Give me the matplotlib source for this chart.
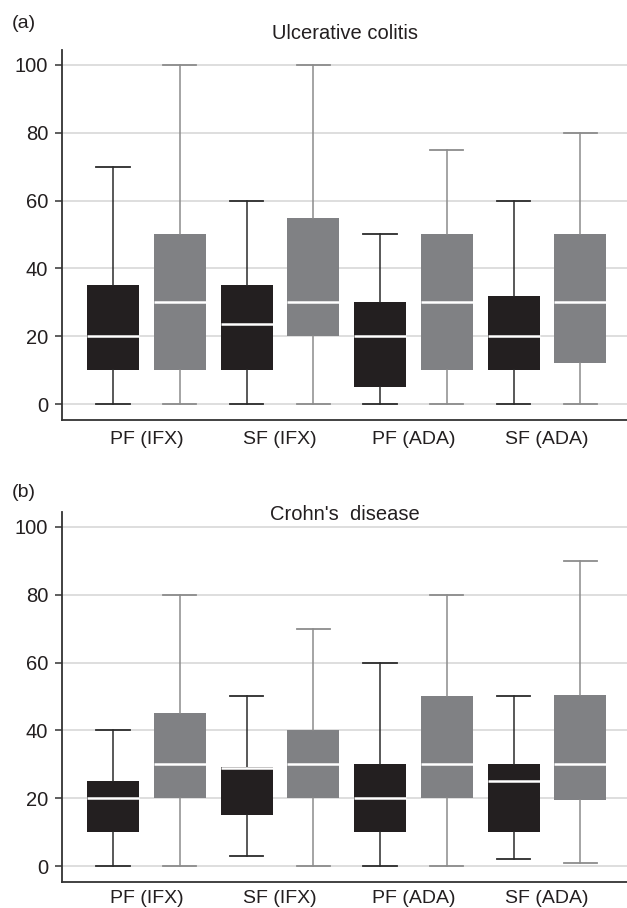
import matplotlib
matplotlib.use('Agg')
import matplotlib.pyplot as plt
import numpy as np

plt.rcParams['font.family'] = ['Liberation Sans', 'DejaVu Sans']

groups = ['PF (IFX)', 'SF (IFX)', 'PF (ADA)', 'SF (ADA)']

# Ulcerative colitis: per group, [black box, gray box]
uc_min = [[0, 0], [0, 0], [0, 0], [0, 0]]
uc_q1 = [[10, 10], [10, 20], [5, 10], [10, 12]]
uc_med = [[20, 30], [23.5, 30], [20, 30], [20, 30]]
uc_q3 = [[35, 50], [35, 55], [30, 50], [32, 50]]
uc_max = [[70, 100], [60, 100], [50, 75], [60, 80]]

# Crohn's disease
cd_min = [[0, 0], [3, 0], [0, 0], [2, 1]]
cd_q1 = [[10, 20], [15, 20], [10, 20], [10, 19.5]]
cd_med = [[20, 30], [29, 30], [20, 30], [25, 30]]
cd_q3 = [[25, 45], [29.3, 40], [30, 50], [30, 50.5]]
cd_max = [[40, 80], [50, 70], [60, 80], [50, 90]]

box_colors = ['#231f20', '#808184']
whisker_colors = ['#2b2b2b', '#8c8c8c']


def draw(ax, mins, q1s, meds, q3s, maxs, title, title_y, xpad):
    ax.set_axisbelow(True)
    ax.yaxis.grid(True, color='#d8d8d8', linewidth=1.2)
    for k in range(2):
        stats = []
        pos = []
        for g in range(len(groups)):
            stats.append({'whislo': mins[g][k], 'q1': q1s[g][k], 'med': meds[g][k],
                          'q3': q3s[g][k], 'whishi': maxs[g][k]})
            pos.append(2 * g + k)
        ax.bxp(stats, positions=pos, widths=0.78, showfliers=False, patch_artist=True,
               capwidths=0.5,
               boxprops=dict(facecolor=box_colors[k], edgecolor='none', linewidth=0),
               medianprops=dict(color='white', linewidth=1.8),
               whiskerprops=dict(color=whisker_colors[k], linewidth=1.1),
               capprops=dict(color=whisker_colors[k], linewidth=1.3))
    ax.set_xlim(-0.765, 7.7)
    ax.set_ylim(-4.7, 104.4)
    ax.set_yticks([0, 20, 40, 60, 80, 100])
    ax.set_xticks([0.5, 2.5, 4.5, 6.5])
    ax.set_xticklabels(groups)
    ax.tick_params(axis='x', length=0, pad=xpad, labelsize=14, colors='#231f20')
    ax.tick_params(axis='y', length=5, width=1.1, pad=5, labelsize=14.5,
                   colors='#333333', labelcolor='#231f20')
    for s in ['top', 'right']:
        ax.spines[s].set_visible(False)
    for s in ['left', 'bottom']:
        ax.spines[s].set_color('#333333')
        ax.spines[s].set_linewidth(1.3)
    ax.text(0.5, title_y, title, transform=ax.transAxes, ha='center', va='center',
            fontsize=14.5, color='#231f20')


fig = plt.figure(figsize=(6.27, 9.08), dpi=100)
ax1 = fig.add_axes([62 / 627, 1 - 420 / 908, 1 - 62 / 627, (420 - 50) / 908])
ax2 = fig.add_axes([62 / 627, 1 - 882 / 908, 1 - 62 / 627, (882 - 512) / 908])

draw(ax1, uc_min, uc_q1, uc_med, uc_q3, uc_max, 'Ulcerative colitis', 1 + 17 / 370, 8)
draw(ax2, cd_min, cd_q1, cd_med, cd_q3, cd_max, "Crohn's  disease", 1 - 3 / 370, 5.5)

fig.text(12 / 627, 1 - 23 / 908, '(a)', ha='left', va='center', fontsize=14,
         color='#231f20')
fig.text(12 / 627, 1 - 493 / 908, '(b)', ha='left', va='center', fontsize=14,
         color='#231f20')

fig.savefig('out.png', dpi=100)
